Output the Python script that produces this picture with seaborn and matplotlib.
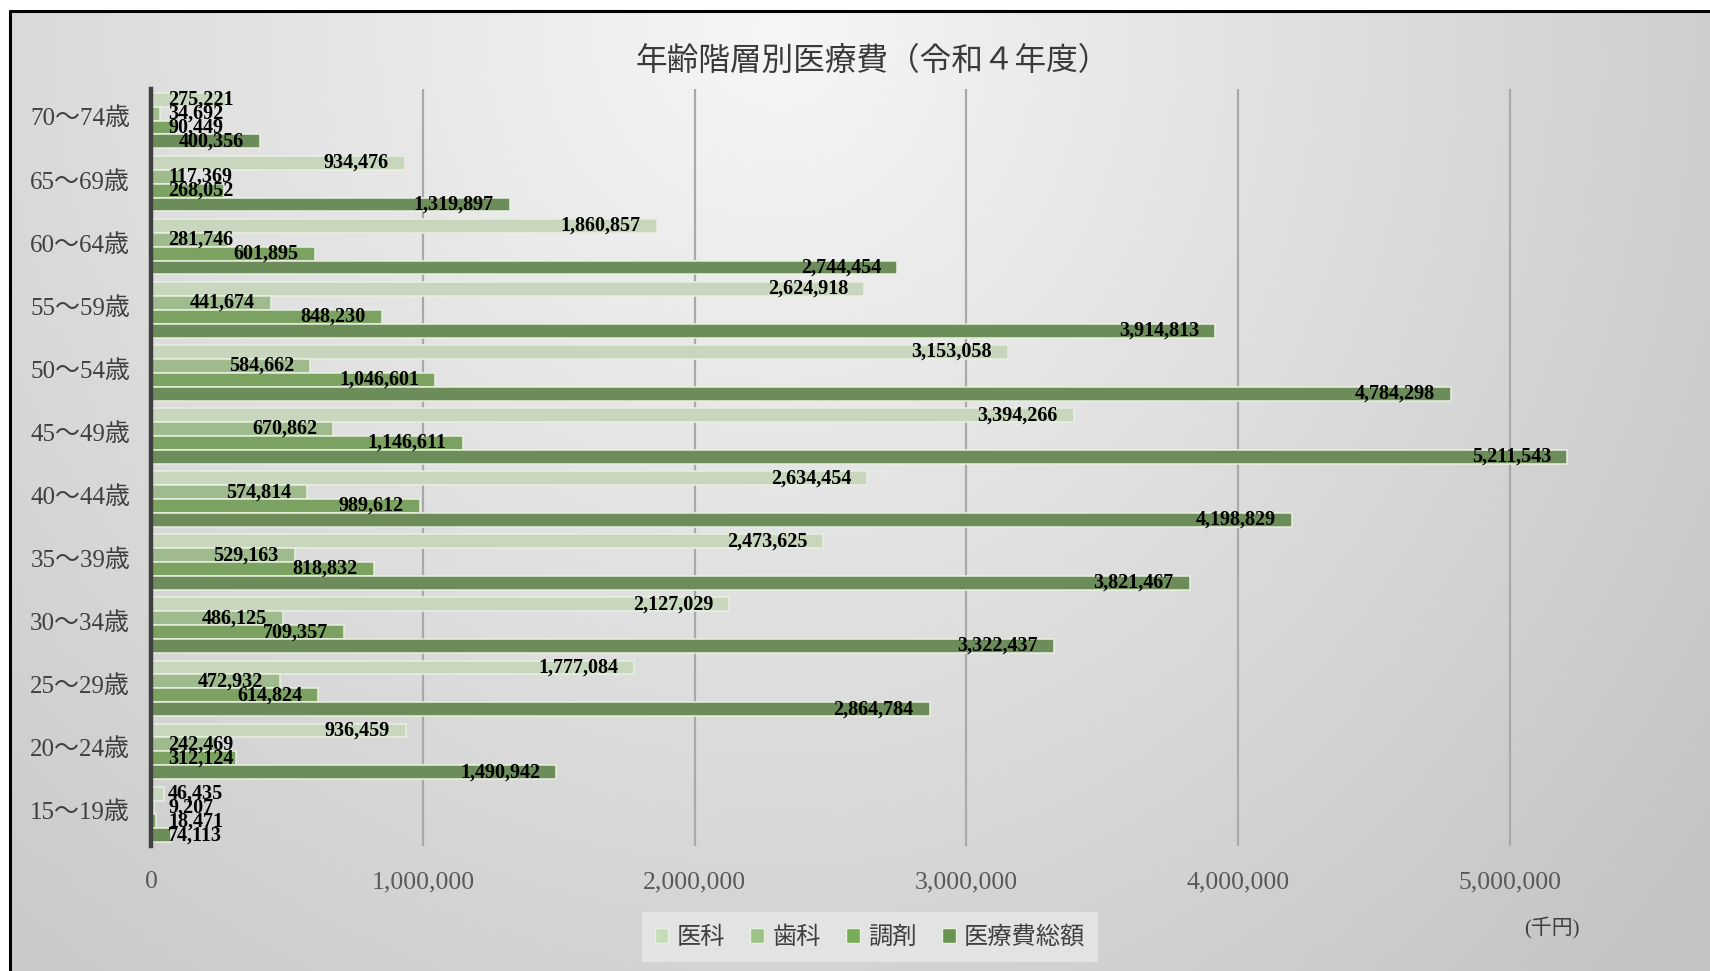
import numpy as np
import pandas as pd
import matplotlib
matplotlib.use("Agg")
import matplotlib.pyplot as plt
import matplotlib.transforms as mtransforms
from matplotlib.patches import Patch
from matplotlib.lines import Line2D
import seaborn as sns

# ---- data (千円) ----
ages = ["70～74歳", "65～69歳", "60～64歳", "55～59歳", "50～54歳", "45～49歳",
        "40～44歳", "35～39歳", "30～34歳", "25～29歳", "20～24歳", "15～19歳"]
kinds = ["医科", "歯科", "調剤", "医療費総額"]
ika = [275221, 934476, 1860857, 2624918, 3153058, 3394266,
       2634454, 2473625, 2127029, 1777084, 936459, 46435]
shika = [34692, 117369, 281746, 441674, 584662, 670862,
         574814, 529163, 486125, 472932, 242469, 9207]
chozai = [90449, 268052, 601895, 848230, 1046601, 1146611,
          989612, 818832, 709357, 614824, 312124, 18471]
total = [400356, 1319897, 2744454, 3914813, 4784298, 5211543,
         4198829, 3821467, 3322437, 2864784, 1490942, 74113]
x_ticks = [0, 1000000, 2000000, 3000000, 4000000, 5000000]

series = dict(zip(kinds, [ika, shika, chozai, total]))
df = pd.DataFrame([(a, k, series[k][i]) for k in kinds for i, a in enumerate(ages)],
                  columns=["age", "kind", "value"])

palette = {"医科": "#c6dbb7", "歯科": "#9dc287", "調剤": "#79ad55", "医療費総額": "#6a9551"}

sns.set_theme(style="white")
plt.rcParams["font.family"] = ["Liberation Serif", "Noto Sans CJK JP", "DejaVu Sans"]

W, H = 1710, 971
fig = plt.figure(figsize=(W / 100, H / 100), dpi=100)
fig.patch.set_facecolor("white")

# ---- gradient chart background inside the frame ----
fx0, fy0 = 10, 11
bg = fig.add_axes([fx0 / W, 0, 1 - fx0 / W, 1 - fy0 / H], zorder=0)
px = np.linspace(fx0, W, 400)
py = np.linspace(fy0, H, 240)
PX, PY = np.meshgrid(px, py)
dx = (PX - 780) * np.where(PX > 780, 1.15, 1.0)
dy = PY - 30
dist = np.sqrt(dx ** 2 + dy ** 2)
val = np.clip(246 - 0.037 * dist, 196, 246) / 255.0
bg.imshow(np.dstack([val, val, val]), aspect="auto", interpolation="bilinear",
          extent=[0, 1, 0, 1])
bg.set_axis_off()

# chart frame (top and left edges visible)
fig.add_artist(Line2D([fx0 / W, fx0 / W], [0, 1 - fy0 / H], color="black", lw=2.2,
                      transform=fig.transFigure, zorder=5))
fig.add_artist(Line2D([fx0 / W, 1], [1 - fy0 / H, 1 - fy0 / H], color="black", lw=2.2,
                      transform=fig.transFigure, zorder=5))

# ---- main plot area ----
ax_l, ax_r, ax_t, ax_b = 151, 1646, 89, 846
ax = fig.add_axes([ax_l / W, 1 - ax_b / H, (ax_r - ax_l) / W, (ax_b - ax_t) / H], zorder=2)
ax.set_facecolor("none")

sns.barplot(data=df, y="age", x="value", hue="kind", order=ages, hue_order=kinds,
            palette=palette, orient="h", width=0.88, edgecolor="#e8f0e0", linewidth=1.1,
            legend=False, ax=ax, zorder=3)

xmax = 5000000 * (ax_r - ax_l) / (1510 - ax_l)
ax.set_xlim(0, xmax)
ax.set_ylim(len(ages) - 0.5, -0.5)
ax.set_xticks(x_ticks)
ax.set_xticklabels([f"{v:,}" for v in x_ticks], fontsize=18.5, color="#595959",
                   family=["Liberation Serif"])
ax.set_yticklabels(ages, fontsize=18, color="#404040",
                   family=["Liberation Serif", "Noto Sans CJK JP"])
ax.tick_params(axis="x", length=0, pad=18)
ax.tick_params(axis="y", length=0, pad=15)
# nudge category labels slightly upward
lift = mtransforms.ScaledTranslation(0, 4 / 100, fig.dpi_scale_trans)
for lab in ax.get_yticklabels():
    lab.set_transform(lab.get_transform() + lift)
ax.set_xlabel("")
ax.set_ylabel("")
ax.grid(axis="x", color="#a9a9a9", lw=1.6, zorder=1)
ax.grid(axis="y", visible=False)
for s in ["top", "right", "bottom"]:
    ax.spines[s].set_visible(False)
ax.spines["left"].set_color("#404040")
ax.spines["left"].set_linewidth(3.2)
ax.spines["left"].set_zorder(6)

# ---- data labels: inside end, kept clear of the axis for short bars ----
fig.canvas.draw()
renderer = fig.canvas.get_renderer()
pad_end, pad_start = 16, 17
x0_px = ax.transData.transform((0, 0))[0]
for cont, k in zip(ax.containers, kinds):
    for bar, v in zip(cont.patches, series[k]):
        yc = bar.get_y() + bar.get_height() / 2
        t = ax.annotate(f"{v:,}", xy=(v, yc), xytext=(-pad_end, 0),
                        textcoords="offset pixels", ha="right", va="center",
                        fontsize=14.5, fontweight="bold", color="black",
                        family=["Liberation Serif"], zorder=7)
        bb = t.get_window_extent(renderer)
        if bb.x0 < x0_px + pad_start:
            t.xy = (0, yc)
            t.set_position((pad_start, 0))
            t.set_ha("left")

# ---- title, legend, unit ----
fig.text(873 / W, 1 - 61 / H, "年齢階層別医療費（令和４年度）", ha="center", va="center",
         fontsize=22.8, color="#3a3a3a", family=["Noto Sans CJK JP"])

handles = [Patch(facecolor=palette[k], edgecolor="#e8f0e0", label=k) for k in kinds]
leg = fig.legend(handles=handles, loc="center", bbox_to_anchor=(870 / W, 1 - 937 / H),
                 ncol=4, frameon=True, fancybox=False,
                 handlelength=0.55, handleheight=0.55, handletextpad=0.35,
                 columnspacing=1.05, borderpad=0.5,
                 prop={"family": ["Noto Sans CJK JP"], "size": 17.5})
leg.get_frame().set_facecolor("#e3e3e3")
leg.get_frame().set_edgecolor("none")
leg.get_frame().set_alpha(1.0)
for txt in leg.get_texts():
    txt.set_color("#404040")

fig.text(1552 / W, 1 - 927 / H, "(千円)", ha="center", va="center", fontsize=15,
         color="#404040", family=["Liberation Serif", "Noto Sans CJK JP"])

fig.savefig("out.png", dpi=100)
